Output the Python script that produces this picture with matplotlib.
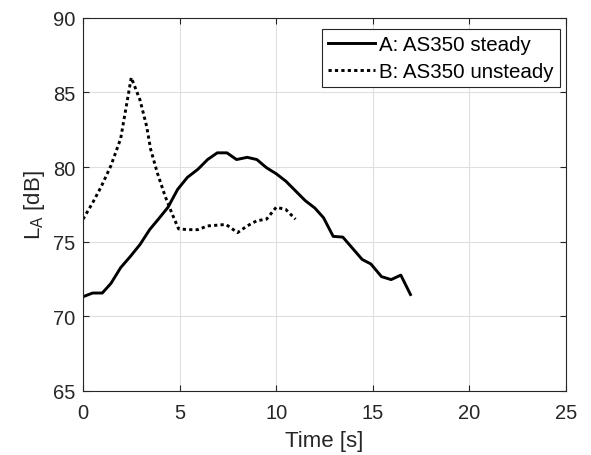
import numpy as np
import matplotlib
matplotlib.use("Agg")
import matplotlib.pyplot as plt

# ---- data ----
t_steady = [0.0, 0.5, 1.0, 1.45, 1.95, 2.45, 2.95, 3.45, 3.9, 4.4, 4.9,
            5.4, 5.95, 6.45, 6.95, 7.45, 7.95, 8.5, 9.0, 9.5, 10.0, 10.5,
            11.0, 11.5, 12.0, 12.45, 12.95, 13.45, 13.95, 14.45, 14.9,
            15.45, 15.95, 16.45, 16.95]
la_steady = [71.3, 71.55, 71.55, 72.2, 73.25, 74.0, 74.8, 75.8, 76.5, 77.3,
             78.5, 79.3, 79.85, 80.5, 80.95, 80.95, 80.5, 80.65, 80.5, 79.95,
             79.55, 79.05, 78.4, 77.75, 77.25, 76.6, 75.35, 75.3, 74.55, 73.8,
             73.5, 72.65, 72.45, 72.75, 71.45]

t_unsteady = [0.0, 0.5, 0.95, 1.45, 1.95, 2.5, 2.95, 3.3, 3.5, 3.85, 4.25,
              4.6, 4.95, 5.45, 5.95, 6.45, 6.95, 7.4, 8.0, 8.5, 9.0, 9.5,
              10.0, 10.5, 11.0]
la_unsteady = [76.5, 77.6, 78.7, 80.1, 81.9, 86.0, 84.5, 82.7, 81.2, 79.6,
               78.05, 76.9, 75.85, 75.8, 75.8, 76.05, 76.1, 76.15, 75.6,
               76.05, 76.4, 76.5, 77.3, 77.15, 76.5]

XTICKS = [0, 5, 10, 15, 20, 25]
YTICKS = [65, 70, 75, 80, 85, 90]

plt.rcParams["font.family"] = ["Liberation Sans", "DejaVu Sans"]
plt.rcParams["mathtext.fontset"] = "custom"
plt.rcParams["mathtext.rm"] = "Liberation Sans"
plt.rcParams["mathtext.it"] = "Liberation Sans"

AX_COLOR = "#262626"

fig = plt.figure(figsize=(5.91, 4.56), dpi=100)
ax = fig.add_axes([0.1404, 0.141, 0.8173, 0.8176])

ax.plot(t_steady, la_steady, color="black", linewidth=2.1, linestyle="-",
        label="A: AS350 steady")
ax.plot(t_unsteady, la_unsteady, color="black", linewidth=2.1,
        linestyle=(0, (1.1, 1.1)), label="B: AS350 unsteady")

ax.set_xlim(0, 25)
ax.set_ylim(65, 90)
ax.set_xticks(XTICKS)
ax.set_yticks(YTICKS)
ax.grid(True, color="#dfdfdf", linewidth=0.8)
ax.set_axisbelow(True)

ax.tick_params(direction="in", top=True, right=True, length=4,
               width=0.8, colors=AX_COLOR, labelsize=14.5, labelcolor=AX_COLOR)
ax.tick_params(axis="x", pad=9)
ax.tick_params(axis="y", pad=5.5)
for sp in ax.spines.values():
    sp.set_color(AX_COLOR)
    sp.set_linewidth(0.8)

ax.set_xlabel("Time [s]", fontsize=16, color=AX_COLOR, labelpad=5.5)
ax.set_ylabel(r"L$_\mathrm{A}$ [dB]", fontsize=16, color=AX_COLOR, labelpad=4)

leg = ax.legend(loc="upper left", bbox_to_anchor=(0.4948, 0.0, 0.4928, 0.9707),
                mode="expand", fontsize=14.8, frameon=True, fancybox=False,
                edgecolor=AX_COLOR, framealpha=1, handlelength=2.3,
                handletextpad=0.15, borderpad=0.3, labelspacing=0.38,
                borderaxespad=0.0)
leg.get_frame().set_linewidth(0.8)

fig.savefig("out.png", dpi=100)
